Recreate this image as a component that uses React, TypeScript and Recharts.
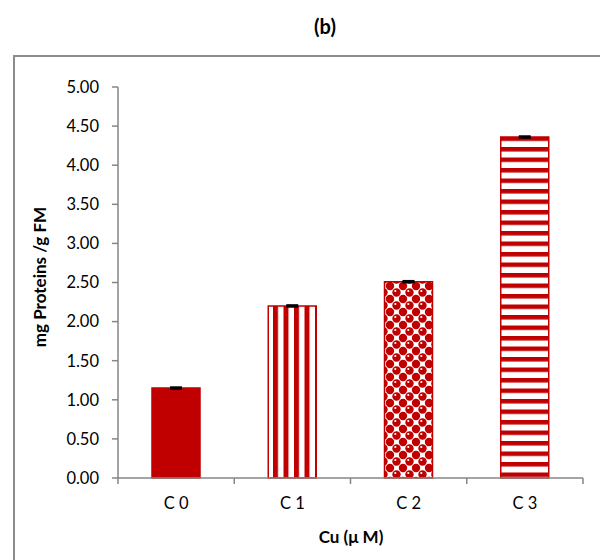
import React from "react";
import { BarChart, Bar, XAxis, YAxis, Cell, ErrorBar } from "recharts";

const categories = ["C 0", "C 1", "C 2", "C 3"];
const proteins = [1.15, 2.2, 2.51, 4.36];
const errors = [0.01, 0.01, 0.01, 0.01];
const fills = ["#C00000", "url(#vstripe)", "url(#dots)", "url(#hstripe)"];
const yTicks = [0, 0.5, 1, 1.5, 2, 2.5, 3, 3.5, 4, 4.5, 5];

const data = categories.map((name, i) => ({ name, value: proteins[i], err: errors[i] }));

const W = 600;
const H = 560;
const X_H = 30;
const margin = { top: 87, right: 17, bottom: 52, left: 0 };
const Y_W = 118;
const PLOT_W = W - Y_W - margin.left - margin.right;
const AXIS_Y = H - margin.bottom - X_H;
const RED = "#C00000";
const GREY = "#868686";
const FONT = "Lato, 'Open Sans', sans-serif";

// Excel-style x ticks: marks sit on category boundaries, labels in the middle
function XTick(props: any) {
  const { x, y, payload, index } = props;
  const band = PLOT_W / categories.length;
  const edges = [x - band / 2];
  if (index === categories.length - 1) edges.push(x + band / 2);
  return (
    <g>
      {edges.map((ex, k) => (
        <line key={k} x1={ex} x2={ex} y1={AXIS_Y} y2={AXIS_Y + 6} stroke={GREY} strokeWidth={1.5} />
      ))}
      <text x={x} y={y} dy="0.71em" textAnchor="middle" fontSize={16.5} fill="#000" fontFamily={FONT}>
        {payload.value}
      </text>
    </g>
  );
}

export default function App() {
  return (
    <div style={{ position: "absolute", left: 0, top: 0, width: W, height: H, overflow: "hidden", background: "#fff" }}>
      <div
        style={{
          position: "absolute",
          left: 13,
          top: 55,
          width: 700,
          height: 700,
          border: "2px solid #8c8c8c",
          boxSizing: "border-box",
        }}
      />
      <div style={{ position: "absolute", left: 0, top: 0 }}>
        <BarChart width={W} height={H} data={data} margin={margin} barSize={48}>
          <defs>
            <pattern id="vstripe" patternUnits="userSpaceOnUse" width={10.5} height={10}>
              <rect width={10.5} height={10} fill="#fff" />
              <rect x={0} width={5} height={10} fill={RED} />
            </pattern>
            <pattern id="hstripe" patternUnits="userSpaceOnUse" width={10} height={10.5}>
              <rect width={10} height={10.5} fill="#fff" />
              <rect y={0} width={10} height={4.5} fill={RED} />
            </pattern>
            <pattern id="dots" patternUnits="userSpaceOnUse" width={13} height={13}>
              <rect width={13} height={13} fill="#fff" />
              <circle cx={0} cy={0} r={4.2} fill={RED} />
              <circle cx={13} cy={0} r={4.2} fill={RED} />
              <circle cx={0} cy={13} r={4.2} fill={RED} />
              <circle cx={13} cy={13} r={4.2} fill={RED} />
              <circle cx={6.5} cy={6.5} r={4.2} fill={RED} />
              <circle cx={5.3} cy={5} r={1.1} fill="#fff" />
            </pattern>
          </defs>
          <XAxis
            dataKey="name"
            height={X_H}
            tickLine={false}
            tick={<XTick />}
            tickMargin={19}
            tickSize={0}
            axisLine={{ stroke: GREY, strokeWidth: 1.5 }}
            interval={0}
          />
          <YAxis
            width={Y_W}
            domain={[0, 5]}
            ticks={yTicks}
            interval={0}
            tickFormatter={(v: number) => v.toFixed(2)}
            tick={{ fontSize: 16.5, fill: "#000", fontFamily: FONT }}
            tickSize={6}
            tickMargin={13}
            tickLine={{ stroke: GREY, strokeWidth: 1.5 }}
            axisLine={{ stroke: GREY, strokeWidth: 1.5 }}
          />
          <Bar dataKey="value" stroke={RED} strokeWidth={1.5} isAnimationActive={false}>
            {data.map((d, i) => (
              <Cell key={d.name} fill={fills[i]} />
            ))}
            <ErrorBar dataKey="err" width={6} stroke="#000" strokeWidth={2} />
          </Bar>
        </BarChart>
      </div>
      <svg width={W} height={H} style={{ position: "absolute", left: 0, top: 0, pointerEvents: "none" }}>
        <text x={325} y={27} dy="0.35em" textAnchor="middle" fontSize={20} fontWeight="bold" fontFamily={FONT}>
          (b)
        </text>
        <text
          x={40}
          y={277}
          dy="0.35em"
          textAnchor="middle"
          fontSize={17}
          fontWeight="bold"
          fontFamily={FONT}
          transform="rotate(-90 40 277)"
        >
          mg Proteins /g FM
        </text>
        <text x={351} y={537} dy="0.35em" textAnchor="middle" fontSize={17} fontWeight="bold" fontFamily={FONT}>
          Cu (μ M)
        </text>
      </svg>
    </div>
  );
}
